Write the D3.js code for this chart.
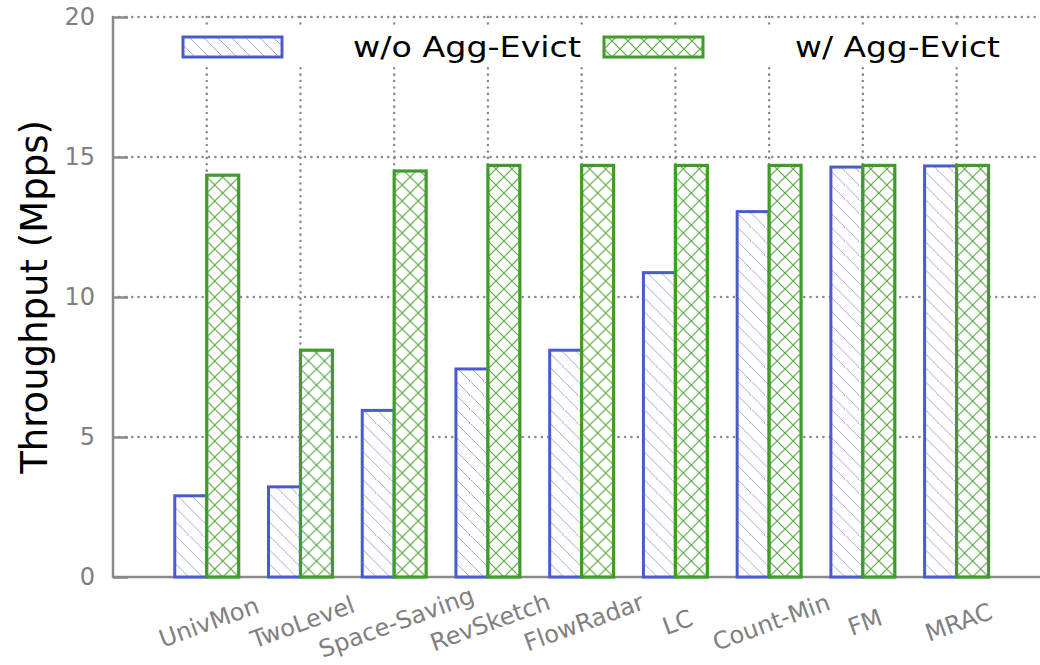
<!DOCTYPE html>
<html>
<head>
<meta charset="utf-8">
<script src="https://cdn.jsdelivr.net/npm/d3@7"></script>
<style>
  html, body { margin: 0; padding: 0; background: #fff; }
  svg { display: block; font-family: "DejaVu Sans", sans-serif; }
</style>
</head>
<body>
<svg id="chart" width="1040" height="665"></svg>
<script>
const categories = ["UnivMon", "TwoLevel", "Space-Saving", "RevSketch", "FlowRadar", "LC", "Count-Min", "FM", "MRAC"];
const withoutAgg = [2.9, 3.22, 5.95, 7.43, 8.1, 10.87, 13.05, 14.64, 14.68];
const withAgg = [14.35, 8.1, 14.5, 14.7, 14.7, 14.7, 14.7, 14.7, 14.7];
const yTicks = [0, 5, 10, 15, 20];
const seriesNames = ["w/o Agg-Evict", "w/ Agg-Evict"];

const svg = d3.select("#chart");
const plotLeft = 113, plotRight = 1040, plotTop = 17, plotBottom = 577;

const x = d3.scaleLinear().domain([-1, 8.89]).range([plotLeft, plotRight]);
const y = d3.scaleLinear().domain([0, 20]).range([plotBottom, plotTop]);
const barW = 0.341; // in category units

const gridColor = "#8a8a8a";
const blue = "#4a5ccc", blueHatch = "#a6aae0";
const green = "#3f9c2a", greenHatch = "#5aa840";

const defs = svg.append("defs");

// one pattern per bar so the hatch lines up with the bar's left edge
function hatch(id, x0, kind) {
  const p = defs.append("pattern")
    .attr("id", id)
    .attr("patternUnits", "userSpaceOnUse")
    .attr("x", x0).attr("y", plotBottom);
  if (kind === "blue") {
    p.attr("width", 14).attr("height", 14);
    p.append("rect").attr("width", 14).attr("height", 14).attr("fill", "#fff");
    p.append("path").attr("d", "M0,0L14,14").attr("stroke", blueHatch).attr("stroke-width", 1);
  } else {
    p.attr("width", 16).attr("height", 16);
    p.append("rect").attr("width", 16).attr("height", 16).attr("fill", "#fff");
    p.append("path").attr("d", "M0,0L16,16M16,0L0,16").attr("stroke", greenHatch).attr("stroke-width", 1.2);
  }
}

// ---------- grid ----------
const grid = svg.append("g")
  .attr("stroke", gridColor)
  .attr("stroke-width", 2.5)
  .attr("stroke-linecap", "round")
  .attr("stroke-dasharray", "0.1,6.3");

grid.selectAll("line.h")
  .data(yTicks.filter((d) => d > 0))
  .join("line")
  .attr("class", "h")
  .attr("x1", plotLeft).attr("x2", plotRight)
  .attr("y1", (d) => y(d)).attr("y2", (d) => y(d));

grid.selectAll("line.v")
  .data(categories)
  .join("line")
  .attr("class", "v")
  .attr("x1", (d, i) => x(i)).attr("x2", (d, i) => x(i))
  .attr("y1", plotTop).attr("y2", plotBottom);

// ---------- legend ----------
const legend = svg.append("g");
legend.append("rect")
  .attr("x", 165).attr("y", 27).attr("width", 850).attr("height", 40)
  .attr("fill", "#fff");

hatch("leg-blue", 183, "blue");
hatch("leg-green", 604, "green");

const legendItems = [
  { name: seriesNames[0], sx: 183, tx: 581, len: 228, fill: "url(#leg-blue)", stroke: blue },
  { name: seriesNames[1], sx: 604, tx: 1000, len: 205, fill: "url(#leg-green)", stroke: green },
];
for (const it of legendItems) {
  legend.append("rect")
    .attr("x", it.sx).attr("y", 37).attr("width", 99).attr("height", 20)
    .attr("fill", it.fill).attr("stroke", it.stroke).attr("stroke-width", 3);
  legend.append("text")
    .attr("x", it.tx).attr("y", 57)
    .attr("text-anchor", "end")
    .attr("font-size", 28)
    .attr("textLength", it.len)
    .attr("lengthAdjust", "spacingAndGlyphs")
    .attr("fill", "#000")
    .text(it.name);
}

// ---------- axes ----------
const yAxis = svg.append("g")
  .attr("transform", `translate(${plotLeft},0)`)
  .call(d3.axisLeft(y).tickValues(yTicks).tickSize(-15).tickPadding(18));
yAxis.select(".domain").remove();
yAxis.selectAll(".tick line").attr("stroke", gridColor).attr("stroke-width", 2.5);
yAxis.selectAll(".tick text")
  .attr("fill", "#808080")
  .attr("font-size", 24)
  .attr("font-family", "DejaVu Sans, sans-serif");

svg.append("line")
  .attr("x1", plotLeft).attr("x2", plotLeft)
  .attr("y1", plotTop - 1).attr("y2", plotBottom + 1)
  .attr("stroke", gridColor).attr("stroke-width", 2.5);
svg.append("line")
  .attr("x1", plotLeft).attr("x2", plotRight)
  .attr("y1", plotBottom).attr("y2", plotBottom)
  .attr("stroke", gridColor).attr("stroke-width", 2.5);

// ---------- bars ----------
const bars = svg.append("g");
categories.forEach((c, i) => {
  const bx = x(i - barW);
  const gx = x(i);
  hatch(`b${i}`, bx, "blue");
  hatch(`g${i}`, gx, "green");

  bars.append("rect")
    .attr("x", bx)
    .attr("y", y(withoutAgg[i]))
    .attr("width", x(i) - x(i - barW))
    .attr("height", y(0) - y(withoutAgg[i]))
    .attr("fill", `url(#b${i})`)
    .attr("stroke", blue).attr("stroke-width", 3);

  bars.append("rect")
    .attr("x", gx)
    .attr("y", y(withAgg[i]))
    .attr("width", x(i + barW) - x(i))
    .attr("height", y(0) - y(withAgg[i]))
    .attr("fill", `url(#g${i})`)
    .attr("stroke", green).attr("stroke-width", 3.2);
});

// ---------- category labels ----------
svg.append("g")
  .selectAll("text")
  .data(categories)
  .join("text")
  .attr("transform", (d, i) => `translate(${x(i) + 5},630) rotate(-20)`)
  .attr("text-anchor", "middle")
  .attr("font-size", 24)
  .attr("fill", "#808080")
  .text((d) => d);

// ---------- y title ----------
svg.append("text")
  .attr("transform", `translate(47,${(plotTop + plotBottom) / 2}) rotate(-90)`)
  .attr("text-anchor", "middle")
  .attr("font-size", 37)
  .attr("fill", "#000")
  .text("Throughput (Mpps)");
</script>
</body>
</html>
